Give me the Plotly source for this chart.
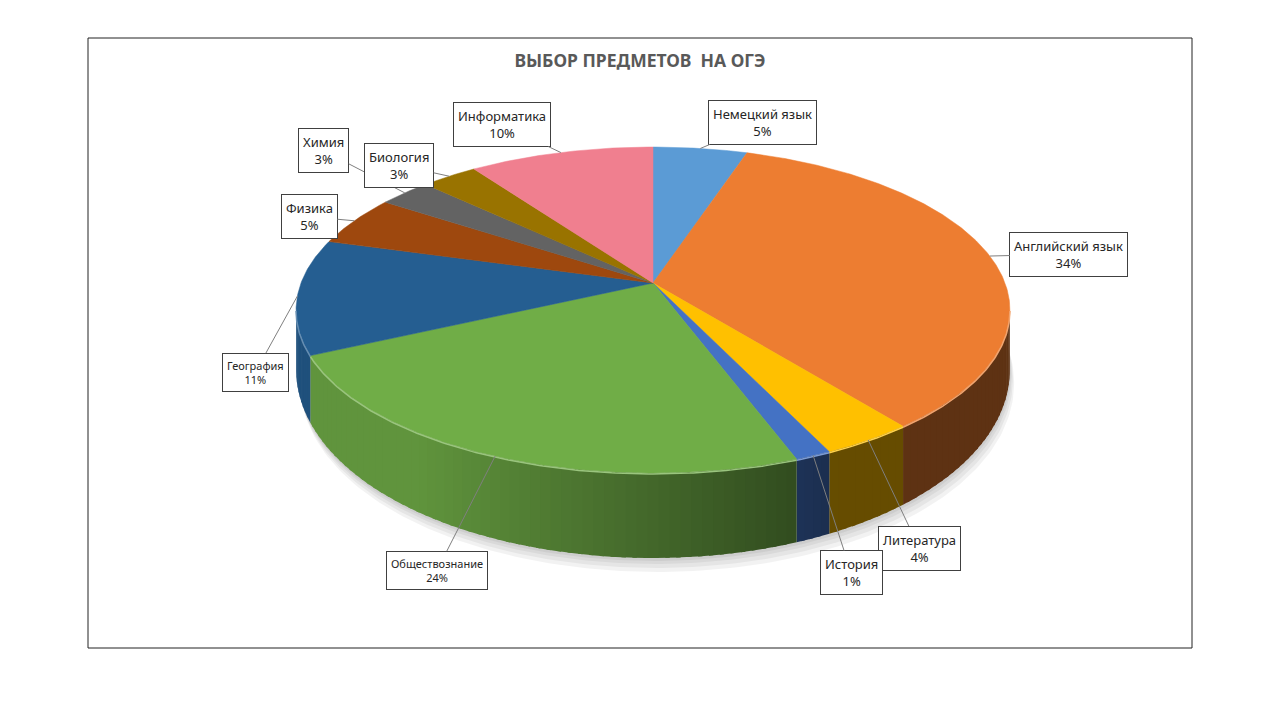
import numpy as np
import plotly.graph_objects as go

# exam subject choices, share of students in %, slice order clockwise from 12 o'clock
subjects = ["Немецкий язык", "Английский язык", "Литература", "История", "Обществознание",
            "География", "Физика", "Химия", "Биология", "Информатика"]
shares = [5.0, 34.4, 3.6, 1.4, 23.6, 11.4, 5.0, 2.8, 3.0, 9.8]
colors = ["#5B9BD5", "#ED7D31", "#FFC000", "#4472C4", "#70AD47",
          "#255E91", "#9E480E", "#636363", "#997300", "#F07F8F"]
title = "ВЫБОР ПРЕДМЕТОВ  НА ОГЭ"

# where each label box sits relative to its leader tip (px), and its font size
label_offsets = [(62, -26), (79, -2), (51, 108), (38, 117), (-58, 114),
                 (-42, 76), (-45, -4), (-81, -42), (-50, -11), (-59, -28)]
label_sizes = [13, 13, 13, 13, 11, 11, 13, 13, 13, 13]

# fake 3d pie: perspective ellipse, coordinates are screen pixels
CX, CY = 653, 283
RX, RY = 352, 158.5
K = 0.1656            # perspective strength
D_SIDE, D_FRONT = 54, 85
TH_R = np.degrees(np.arccos(-K))          # silhouette angles
TH_L = 360 - TH_R


def rim(theta):
    t = np.radians(theta)
    u, v = np.sin(t), np.cos(t)
    w = 1 + K * v
    return CX + RX * u / w, CY - RY * v / w, u, v


def depth(v):
    return D_SIDE + (D_FRONT - D_SIDE) * np.clip(-v, 0, None)


def shade(hex_color, f):
    r, g, b = (int(hex_color[i:i + 2], 16) for i in (1, 3, 5))
    if f <= 1:
        r, g, b = r * f, g * f, b * f
    else:
        m = f - 1
        r, g, b = r + (255 - r) * m, g + (255 - g) * m, b + (255 - b) * m
    return f"rgb({int(r)},{int(g)},{int(b)})"


fig = go.Figure()

# soft shadow under the pie
t_all = np.linspace(0, 360, 361)
sx, sy, su, sv = rim(t_all)
for off in [14, 10, 6, 3]:
    fig.add_trace(go.Scatter(x=sx + off * 0.3, y=sy + depth(sv) + off, fill="toself",
                             fillcolor="rgba(0,0,0,0.05)", line=dict(width=0),
                             mode="lines", hoverinfo="skip", showlegend=False))

cum = np.concatenate([[0], np.cumsum(shares)]) / sum(shares) * 360

# side walls, split in narrow strips so the lighting can change across them
for i in range(len(shares)):
    lo, hi = max(cum[i], TH_R), min(cum[i + 1], TH_L)
    if hi <= lo:
        continue
    n = int(np.ceil((hi - lo) / 1.5))
    edges = np.linspace(lo, hi, n + 1)
    for a, b in zip(edges[:-1], edges[1:]):
        # overlap the next strip a little so no seams show
        tt = np.array([a, min(b + 0.6, hi)])
        x, y, u, v = rim(tt)
        yb = y + depth(v)
        f = float(np.clip(0.6 - 0.45 * np.sin(np.radians((a + b) / 2)), 0.4, 0.86))
        c = shade(colors[i], f)
        fig.add_trace(go.Scatter(x=np.r_[x, x[::-1]], y=np.r_[y, yb[::-1]],
                                 fill="toself", fillcolor=c, line=dict(width=0),
                                 mode="lines", hoverinfo="skip", showlegend=False))

# top faces
for i in range(len(shares)):
    tt = np.linspace(cum[i], cum[i + 1], max(3, int((cum[i + 1] - cum[i]) * 2)))
    x, y, u, v = rim(tt)
    fig.add_trace(go.Scatter(x=np.r_[CX, x, CX], y=np.r_[CY, y, CY], fill="toself",
                             fillcolor=colors[i], line=dict(color=colors[i], width=0.5),
                             mode="lines", name=subjects[i], showlegend=False,
                             hovertemplate=f"{subjects[i]}: {shares[i]}%<extra></extra>"))

# bevel highlight on the front rim
for i in range(len(shares)):
    lo, hi = max(cum[i], TH_R), min(cum[i + 1], TH_L)
    if hi <= lo:
        continue
    tt = np.linspace(lo, hi, max(3, int((hi - lo) * 2)))
    x, y, u, v = rim(tt)
    fig.add_trace(go.Scatter(x=x, y=y + 1, mode="lines",
                             line=dict(color=shade(colors[i], 1.3), width=1.5),
                             hoverinfo="skip", showlegend=False))

# data labels with leader lines
for i in range(len(shares)):
    mid = (cum[i] + cum[i + 1]) / 2
    x, y, u, v = rim(mid)
    dx, dy = label_offsets[i]
    fig.add_annotation(x=float(x), y=float(y), xref="x", yref="y", ax=dx, ay=dy,
                       text=f"{subjects[i]}<br>{round(shares[i])}%",
                       showarrow=True, arrowhead=0, arrowwidth=1, arrowcolor="#7F7F7F",
                       standoff=0, bordercolor="#404040", borderwidth=1, borderpad=4,
                       bgcolor="white", align="center",
                       font=dict(family="Noto Sans", size=label_sizes[i], color="#262626"))

fig.update_layout(
    width=1280, height=720,
    margin=dict(l=88, r=88, t=38, b=72),
    paper_bgcolor="white", plot_bgcolor="white",
    title=dict(text=f"<b>{title}</b>", x=0.5, xanchor="center", y=1 - 61 / 720, yanchor="middle",
               font=dict(family="Noto Sans", size=17.5, color="#595959")),
    xaxis=dict(range=[88, 1192], visible=False, fixedrange=True),
    yaxis=dict(range=[648, 38], visible=False, fixedrange=True),
    shapes=[dict(type="rect", xref="paper", yref="paper", x0=0, y0=0, x1=1, y1=1,
                 line=dict(color="#222222", width=1))],
)

# page body has a default 8px margin, drop it so the figure sits at 0,0
fig.write_html("out.html", config={"displayModeBar": False},
               post_script="document.body.style.margin='0';")
